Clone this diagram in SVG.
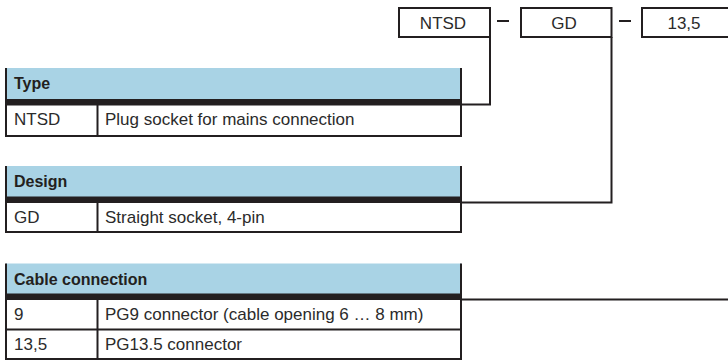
<svg xmlns="http://www.w3.org/2000/svg" width="728" height="360" viewBox="0 0 728 360">
<style>
.bg{fill:#ffffff}
.hdr{fill:#a9d3e5}
.bar{fill:#231f20}
.ln{stroke:#231f20;stroke-width:2;fill:none}
.box{stroke:#231f20;stroke-width:2;fill:#ffffff}
.con{stroke:#231f20;stroke-width:2;fill:none}
.t{font-family:"Liberation Sans",Arial,sans-serif;font-size:17px;fill:#2b2b2b}
.h{font-family:"Liberation Sans",Arial,sans-serif;font-size:16px;font-weight:bold;fill:#231f20}
.c{text-anchor:middle}
</style>
<rect class="bg" x="0" y="0" width="728" height="360"/>
<g id="connectors">
<polyline class="con" points="490,37 490,104.5 461,104.5"/>
<polyline class="con" points="611.5,37 611.5,202.5 461,202.5"/>
<line class="con" x1="461" y1="299.5" x2="728" y2="299.5"/>
<line class="con" x1="497" y1="21" x2="509" y2="21"/>
<line class="con" x1="619" y1="21" x2="631" y2="21"/>
</g>
<g id="code-ntsd">
<rect class="box" x="399" y="8" width="91" height="29"/>
<text class="t c" x="443" y="28.5">NTSD</text>
</g>
<g id="code-gd">
<rect class="box" x="521" y="8" width="90.5" height="29"/>
<text class="t c" x="564" y="28.5">GD</text>
</g>
<g id="code-135">
<rect class="box" x="642" y="8" width="92" height="29"/>
<text class="t c" x="684" y="28.5">13,5</text>
</g>
<g id="table-type">
<rect class="hdr" x="6" y="68" width="455" height="31"/>
<rect class="bar" x="5" y="99" width="457" height="6.5"/>
<line class="ln" x1="6" y1="68" x2="6" y2="137"/>
<line class="ln" x1="461" y1="68" x2="461" y2="137"/>
<line class="ln" x1="97.5" y1="105" x2="97.5" y2="136"/>
<line class="ln" x1="5" y1="136" x2="462" y2="136"/>
<text class="h" x="14" y="89">Type</text>
<text class="t" x="14" y="125">NTSD</text>
<text class="t" x="105" y="125">Plug socket for mains connection</text>
</g>
<g id="table-design">
<rect class="hdr" x="6" y="166" width="455" height="31"/>
<rect class="bar" x="5" y="196.5" width="457" height="6.5"/>
<line class="ln" x1="6" y1="166" x2="6" y2="233"/>
<line class="ln" x1="461" y1="166" x2="461" y2="233"/>
<line class="ln" x1="97.5" y1="203" x2="97.5" y2="232"/>
<line class="ln" x1="5" y1="232" x2="462" y2="232"/>
<text class="h" x="14" y="187">Design</text>
<text class="t" x="14" y="223">GD</text>
<text class="t" x="105" y="223">Straight socket, 4-pin</text>
</g>
<g id="table-cable">
<rect class="hdr" x="6" y="263.5" width="455" height="30.5"/>
<rect class="bar" x="5" y="293.5" width="457" height="6.5"/>
<line class="ln" x1="6" y1="263.5" x2="6" y2="360"/>
<line class="ln" x1="461" y1="263.5" x2="461" y2="360"/>
<line class="ln" x1="97.5" y1="300" x2="97.5" y2="359"/>
<line class="ln" x1="5" y1="329.5" x2="462" y2="329.5"/>
<line class="ln" x1="5" y1="359" x2="462" y2="359"/>
<text class="h" x="14" y="284.5">Cable connection</text>
<text class="t" x="14" y="320">9</text>
<text class="t" x="105" y="320">PG9 connector (cable opening 6 … 8 mm)</text>
<text class="t" x="14" y="350">13,5</text>
<text class="t" x="105" y="350">PG13.5 connector</text>
</g>
</svg>
